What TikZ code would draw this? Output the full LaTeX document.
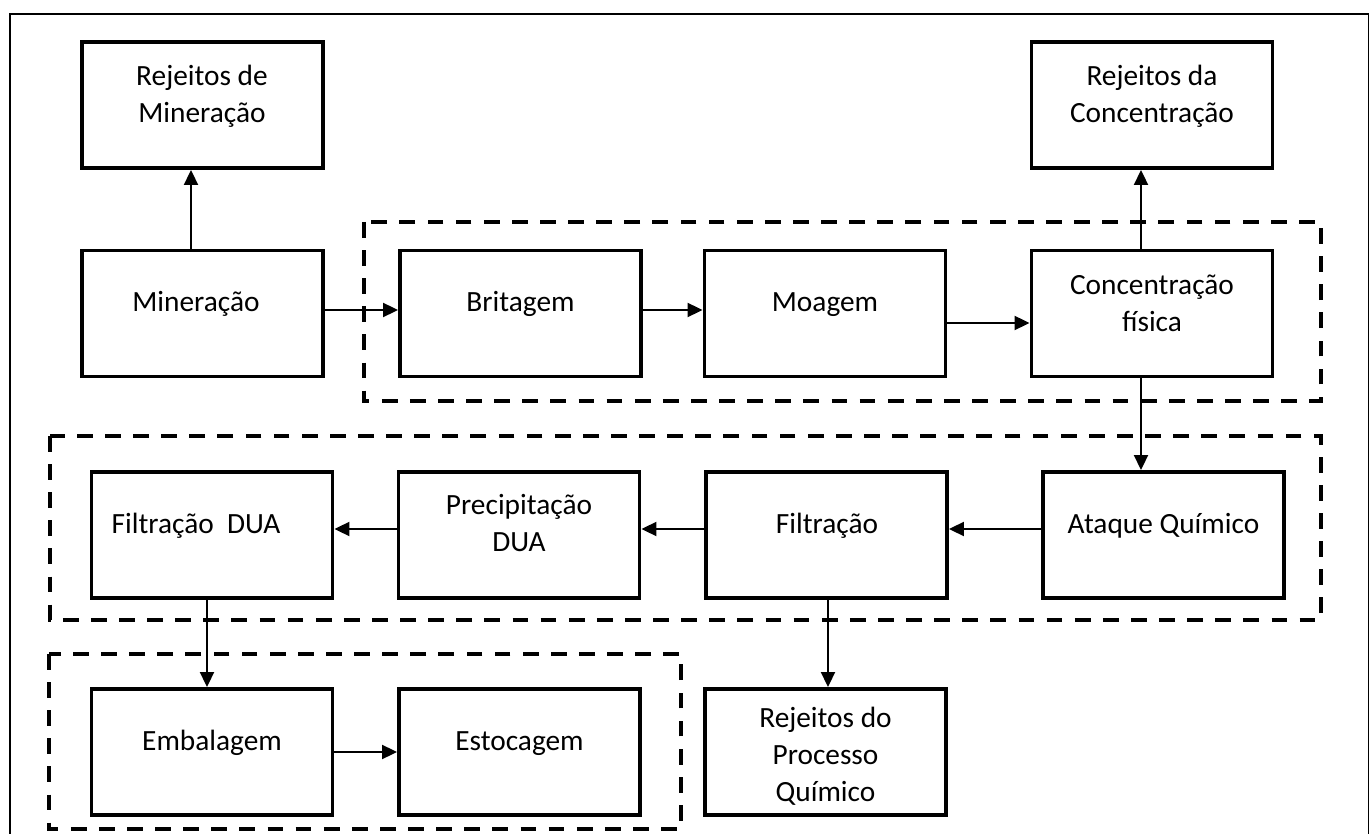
\documentclass[tikz,border=0pt]{standalone}
\usepackage{fontspec}
\setmainfont{Carlito}
\usetikzlibrary{arrows.meta}

\begin{document}
\begin{tikzpicture}[x=0.02cm, y=-0.02cm,
    caixa/.style={draw, line width=2pt, minimum width=4.83cm, minimum height=2.53cm, inner sep=0pt},
    texto/.style={align=center, font=\fontsize{16.7}{21}\selectfont, inner sep=0pt},
    linha/.style={texto, text height=0.72em, text depth=0.22em},
    grupo/.style={draw, line width=2.2pt, dash pattern=on 9pt off 7pt},
    seta/.style={-{Triangle[length=8.5pt, width=8pt]}, line width=1pt}]

    \useasboundingbox (0,0) rectangle (1370,834);
    \draw[line width=0.7pt] (10,836) |- (1368.5,14) -- (1368.5,836);

    \draw[grupo] (364,222) rectangle (1321,401);
    \draw[grupo] (50,436) rectangle (1321,620);
    \draw[grupo] (49,654) rectangle (681,829);

    \node[caixa] (rejmin) at (202.5,105) {};
    \node[caixa] (min) at (202.5,313.5) {};
    \node[caixa] (brit) at (520.5,313.5) {};
    \node[caixa] (moag) at (825,313.5) {};
    \node[caixa] (conc) at (1152,313.5) {};
    \node[caixa] (rejconc) at (1152,105) {};

    \node[caixa] (ataque) at (1163.5,535) {};
    \node[caixa] (filt) at (826.5,535) {};
    \node[caixa] (precip) at (519,535) {};
    \node[caixa] (filtdua) at (212,535) {};

    \node[caixa] (emb) at (212,752) {};
    \node[caixa] (est) at (519.5,752) {};
    \node[caixa] (rejproc) at (825.5,752) {};

    \node[texto] (rejmin-t) at (202,96) {Rejeitos de\\Mineração};
    \node[linha] (min-t) at (196,307.5) {Mineração};
    \node[linha] (brit-t) at (520.5,307.5) {Britagem};
    \node[linha] (moag-t) at (825,307.5) {Moagem};
    \node[texto] (conc-t) at (1152,303) {Concentração\\física};
    \node[texto] (rejconc-t) at (1152,96) {Rejeitos da\\Concentração};

    \node[linha] (ataque-t) at (1163.5,529.5) {Ataque Químico};
    \node[linha] (filt-t) at (827,529.5) {Filtração};
    \node[texto] (precip-t) at (519,523) {Precipitação\\DUA};
    \node[linha] (filtdua-t) at (196,529.5) {Filtração~~DUA};

    \node[linha] (emb-t) at (212,746.5) {Embalagem};
    \node[linha] (est-t) at (519.5,746.5) {Estocagem};
    \node[texto] (rejproc-t) at (825.5,756) {Rejeitos do\\Processo\\Químico};

    \draw[seta] ([xshift=-0.23cm]min.north) -- ([xshift=-0.23cm]rejmin.south);
    \draw[seta] ([yshift=0.07cm]min.east) -- ([yshift=0.07cm]brit.west);
    \draw[seta] ([yshift=0.07cm]brit.east) -- ([yshift=0.07cm]moag.west);
    \draw[seta] ([yshift=-0.19cm]moag.east) -- ([yshift=-0.19cm]conc.west);
    \draw[seta] ([xshift=-0.22cm]conc.north) -- ([xshift=-0.22cm]rejconc.south);
    \draw[seta] ([xshift=-0.22cm]conc.south) -- ([xshift=-0.22cm]conc.south |- ataque.north);

    \draw[seta] ([yshift=0.12cm]ataque.west) -- ([yshift=0.12cm]filt.east);
    \draw[seta] ([yshift=0.12cm]filt.west) -- ([yshift=0.12cm]precip.east);
    \draw[seta] ([yshift=0.12cm]precip.west) -- ([yshift=0.12cm]filtdua.east);

    \draw[seta] ([xshift=-0.1cm]filtdua.south) -- ([xshift=-0.1cm]emb.north);
    \draw[seta] ([xshift=0.03cm]filt.south) -- ([xshift=0.03cm]filt.south |- rejproc.north);
    \draw[seta] (emb.east) -- (est.west);

\end{tikzpicture}
\end{document}
